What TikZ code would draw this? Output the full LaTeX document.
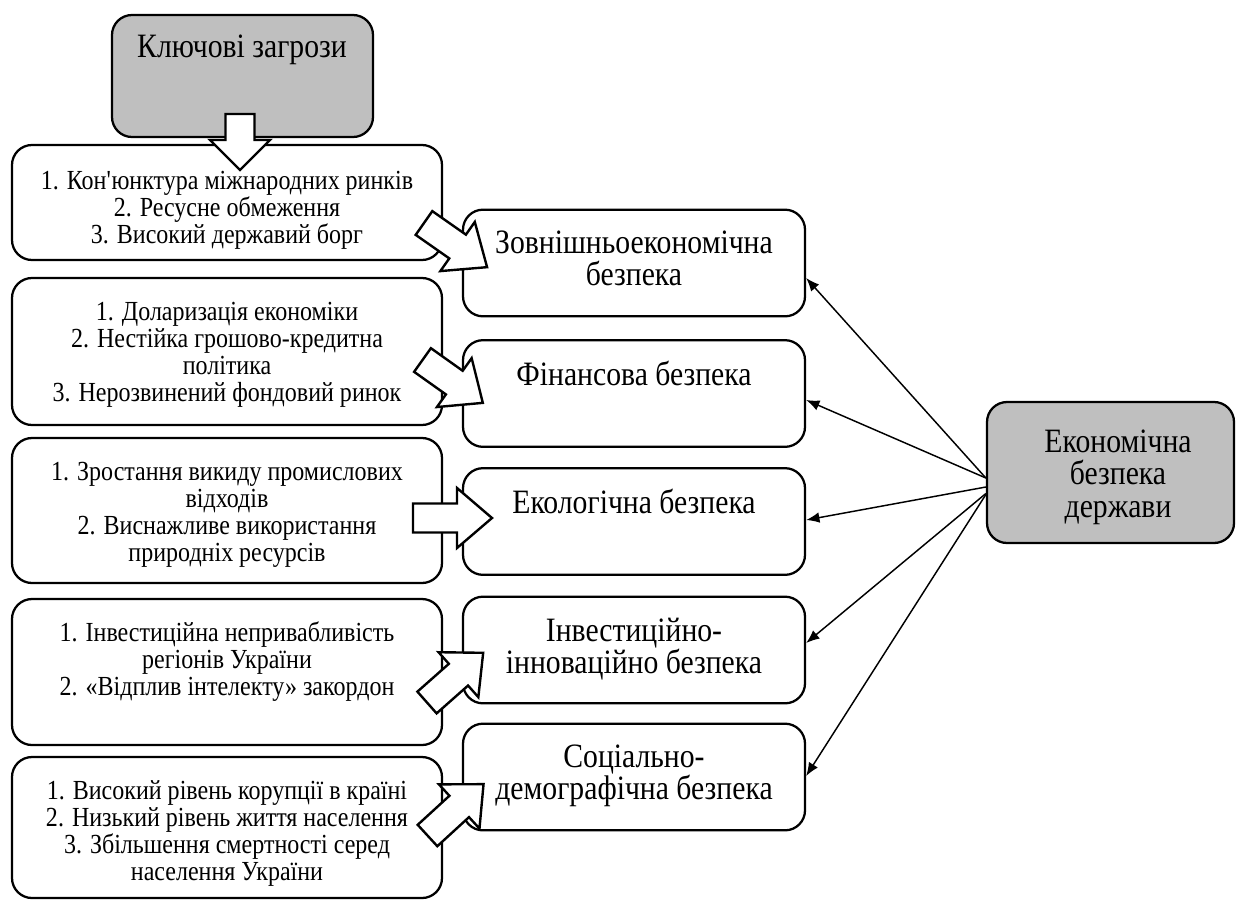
\documentclass[tikz,border=0pt]{standalone}
\usepackage{fontspec}
\setmainfont{Liberation Serif}[FakeStretch=0.87]
\usetikzlibrary{arrows.meta,calc}
\definecolor{boxgray}{RGB}{191,191,191}
\newcommand\blkarrow[5]{% tail x, tail y, angle, length, head length
  \draw[blk, shift={(#1,#2)}, rotate=#3]
    (0,14.5) -- ({#4-#5},14.5) -- ({#4-#5},30) -- (#4,0) -- ({#4-#5},-30) -- ({#4-#5},-14.5) -- (0,-14.5) -- cycle;}
\begin{document}
\begin{tikzpicture}[x=0.75pt,y=-0.75pt,
  box/.style={draw, line width=1.7pt, rounded corners=15pt, fill=white, inner sep=0pt},
  graybox/.style={box, fill=boxgray},
  lbox/.style={box, minimum width=322.5pt},
  rbox/.style={box, minimum width=256.5pt, minimum height=80pt},
  ltext/.style={font=\fontsize{20.7}{20.3}\selectfont, align=center, inner sep=0pt, anchor=north},
  rtext/.style={font=\fontsize{25.6}{24.4}\selectfont, align=center, inner sep=0pt, anchor=north},
  blk/.style={draw, line width=1.8pt, fill=white, line join=miter},
  conn/.style={line width=1.1pt, -{Latex[length=10pt,width=8pt]}}
]
\useasboundingbox (0,0) rectangle (1237,900);

% boxes
\node[graybox, minimum width=195.75pt, minimum height=91.5pt] (K) at (242.5,76) {};
\node[lbox, minimum height=86.25pt] (L1) at (227,202.5) {};
\node[lbox, minimum height=110.25pt] (L2) at (227,351.5) {};
\node[lbox, minimum height=108.75pt] (L3) at (227,510.5) {};
\node[lbox, minimum height=109.5pt] (L4) at (227,672) {};
\node[lbox, minimum height=105.75pt] (L5) at (227,827.5) {};
\node[rbox] (A) at (634,263) {};
\node[rbox] (B) at (634,393.5) {};
\node[rbox] (C) at (634,521.5) {};
\node[rbox] (D) at (634,650) {};
\node[rbox] (E) at (634,777) {};
\node[graybox, minimum width=185.25pt, minimum height=105.75pt] (G) at (1110.5,472.5) {};

% connectors
\draw[conn] ($(G.west)+(0,5.5)$) -- ($(A.east)+(0,15)$);
\draw[conn] ($(G.west)+(0,5.5)$) -- ($(B.east)+(0,6.5)$);
\draw[conn] ($(G.west)+(0,14.5)$) -- ($(C.east)+(0,-1.5)$);
\draw[conn] ($(G.west)+(0,21)$) -- ($(D.east)+(0,-7)$);
\draw[conn] ($(G.west)+(0,22)$) -- ($(E.east)+(0,-1)$);

% block arrows
\blkarrow{240}{114}{-90}{56}{30}
\blkarrow{424}{223}{-35}{77}{36}
\blkarrow{422.5}{360}{-35.4}{74}{35}
\blkarrow{413}{518}{0}{79}{35}
\blkarrow{427}{702.5}{41.5}{75}{33}
\blkarrow{427.5}{835.5}{42.5}{76}{33}

% texts
\node[rtext] (Kt) at (242,34.5) {Ключові загрози};
\node[ltext] (L1t) at (227,170.5) {1. Кон\textquotesingle юнктура міжнародних ринків\\2. Ресусне обмеження\\3. Високий державий борг};
\node[ltext] (L2t) at (227,301.5) {1. Доларизація економіки\\2. Нестійка грошово-кредитна\\політика\\3. Нерозвинений фондовий ринок};
\node[ltext] (L3t) at (227,461.5) {1. Зростання викиду промислових\\відходів\\2. Виснажливе використання\\природніх ресурсів};
\node[ltext] (L4t) at (227,621.5) {1. Інвестиційна непривабливість\\регіонів України\\2. «Відплив інтелекту» закордон};
\node[ltext] (L5t) at (227,780.5) {1. Високий рівень корупції в країні\\2. Низький рівень життя населення\\3. Збільшення смертності серед\\населення України};
\node[rtext] (At) at (634,230.5) {Зовнішньоекономічна\\безпека};
\node[rtext] (Bt) at (634,360.5) {Фінансова безпека};
\node[rtext] (Ct) at (634,488.5) {Екологічна безпека};
\node[rtext] (Dt) at (634,617.5) {Інвестиційно-\\інноваційно безпека};
\node[rtext] (Et) at (634,744.5) {Соціально-\\демографічна безпека};
\node[rtext] (Gt) at (1118,429.5) {Економічна\\безпека\\держави};
\end{tikzpicture}
\end{document}
